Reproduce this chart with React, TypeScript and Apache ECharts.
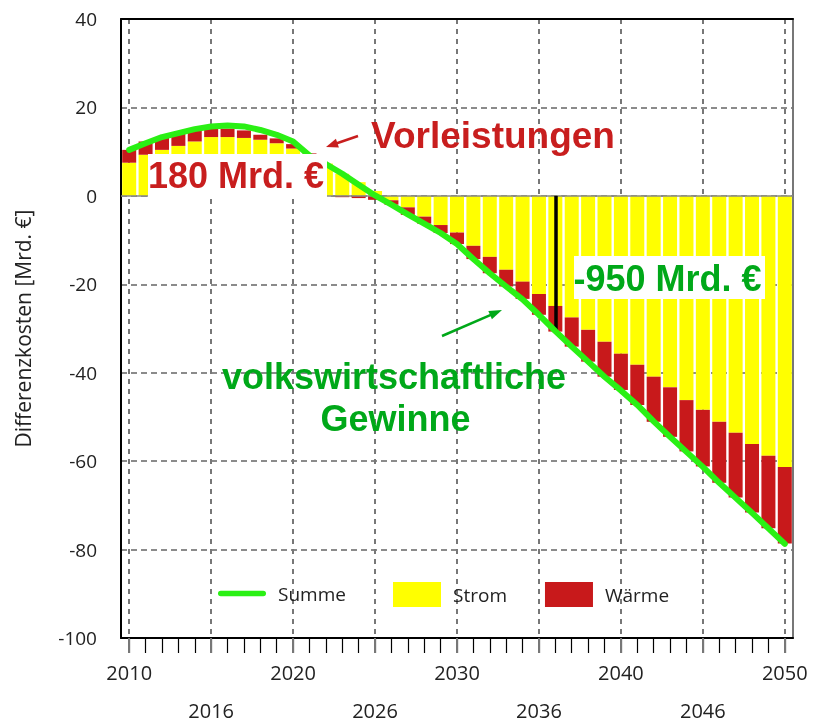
import { useEffect, useRef } from 'react';
import * as echarts from 'echarts';

const years = [
  '2010', '2011', '2012', '2013', '2014', '2015', '2016', '2017', '2018', '2019',
  '2020', '2021', '2022', '2023', '2024', '2025', '2026', '2027', '2028', '2029',
  '2030', '2031', '2032', '2033', '2034', '2035', '2036', '2037', '2038', '2039',
  '2040', '2041', '2042', '2043', '2044', '2045', '2046', '2047', '2048', '2049', '2050',
];

const strom = [
  7.5, 9.3, 10.4, 11.3, 12.3, 13.3, 13.3, 13.1, 12.7, 11.9,
  10.7, 9.1, 7.3, 5.0, 3.1, 1.1, -1.0, -2.6, -4.7, -6.6,
  -8.3, -11.3, -13.8, -16.7, -19.4, -22.2, -24.9, -27.5, -30.3, -33.0,
  -35.7, -38.2, -40.9, -43.3, -46.2, -48.4, -51.1, -53.6, -56.1, -58.8, -61.3,
];

const waerme = [
  2.9, 3.0, 2.8, 2.7, 2.5, 1.9, 1.9, 1.7, 1.1, 1.1,
  1.0, 0.5, 0, -0.3, -0.5, -0.9, -1.0, -1.7, -1.6, -1.8,
  -2.6, -3.0, -3.7, -3.8, -3.9, -4.7, -5.8, -6.6, -7.2, -7.9,
  -8.2, -9.1, -10.2, -11.2, -11.6, -12.8, -13.8, -14.6, -15.5, -16.4, -17.3,
];

const summe = [
  10.4, 11.9, 13.3, 14.2, 15.1, 15.7, 15.9, 15.7, 14.9, 13.8,
  12.3, 9.1, 7.2, 5.0, 2.5, 0.1, -2.0, -4.2, -6.3, -8.4,
  -10.9, -14.3, -17.5, -20.5, -23.4, -26.9, -30.6, -34.1, -37.5, -40.9,
  -44.0, -47.3, -51.0, -54.5, -57.9, -61.3, -64.9, -68.3, -71.7, -75.2, -78.7,
];

// second row of x-axis labels, as printed in the original
const lowerAxisLabels: Record<string, string> = {
  '2015': '2016',
  '2025': '2026',
  '2035': '2036',
  '2045': '2046',
};

const markerYear = '2036';

const legendNames = ['Summe', 'Strom', 'Wärme'];

export default function App() {
  const ref = useRef<HTMLDivElement>(null);

  useEffect(() => {
    const chart = echarts.init(ref.current!, null, { renderer: 'svg' });
    const markerValue = summe[years.indexOf(markerYear)];
    const annotFont = '"Liberation Sans", Arial, sans-serif';
    const red = '#c81e1e';
    const green = '#00a819';
    const lime = '#2af014';
    const legendBase = {
      padding: 0,
      itemWidth: 48,
      itemHeight: 25,
      itemGap: 38,
      symbolKeepAspect: true,
      textStyle: { fontSize: 19, color: '#222', fontFamily: '"Open Sans", sans-serif', padding: [0, 0, 0, 7] },
    };

    chart.setOption({
      animation: false,
      textStyle: { fontFamily: '"Open Sans", sans-serif' },
      grid: [
        { left: 121, right: 26, top: 19, bottom: 84 },
        { left: 121, right: 26, top: 19, bottom: 84 },
      ],
      legend: [
        {
          ...legendBase,
          left: 218,
          top: 584,
          data: [
            {
              name: legendNames[0],
              icon: 'path://M3,0 L49,0 A3,3 0 0 1 49,6 L3,6 A3,3 0 0 1 3,0 Z',
              itemStyle: { color: lime },
            },
          ],
        },
        {
          ...legendBase,
          left: 393,
          top: 582,
          data: [
            { name: legendNames[1], icon: 'rect' },
            { name: legendNames[2], icon: 'rect' },
          ],
        },
      ],
      xAxis: [
        {
          type: 'category',
          data: years,
          gridIndex: 0,
          position: 'bottom',
          boundaryGap: true,
          axisLine: { onZero: false, lineStyle: { color: '#000', width: 2 } },
          axisTick: { show: true, alignWithLabel: true, interval: 0, length: 15, lineStyle: { color: '#000', width: 1.2 } },
          axisLabel: { interval: 9, margin: 24, fontSize: 20, color: '#222' },
          splitLine: { show: true, interval: 4, alignWithLabel: true, lineStyle: { color: '#777', width: 2, type: [5, 5] } },
        },
        {
          type: 'category',
          data: years,
          gridIndex: 0,
          position: 'top',
          axisLine: { onZero: false, lineStyle: { color: '#000', width: 2 } },
          axisTick: { show: false },
          axisLabel: { show: false },
          splitLine: { show: false },
        },
        {
          type: 'category',
          data: years,
          gridIndex: 1,
          position: 'bottom',
          axisLine: { show: false, onZero: false },
          axisTick: { show: true, alignWithLabel: true, interval: 4, length: 15, lineStyle: { color: '#777', width: 2 } },
          axisLabel: {
            interval: (_i: number, v: string) => !!lowerAxisLabels[v],
            formatter: (v: string) => lowerAxisLabels[v] || '',
            margin: 62,
            fontSize: 20,
            color: '#222',
          },
          splitLine: { show: false },
        },
      ],
      yAxis: [
        {
          type: 'value',
          gridIndex: 0,
          min: -100,
          max: 40,
          interval: 20,
          position: 'left',
          axisLine: { show: true, lineStyle: { color: '#000', width: 2 } },
          axisTick: { show: false },
          axisLabel: { fontSize: 19, color: '#222', margin: 24 },
          name: 'Differenzkosten [Mrd. €]',
          nameLocation: 'middle',
          nameGap: 88,
          nameTextStyle: { fontSize: 21, color: '#222' },
          splitLine: { show: true, lineStyle: { color: '#666', width: 1.5, type: [6, 4] } },
        },
        {
          type: 'value',
          gridIndex: 0,
          min: -100,
          max: 40,
          interval: 20,
          position: 'right',
          axisLine: { show: true, lineStyle: { color: '#777', width: 2 } },
          axisTick: { show: false },
          axisLabel: { show: false },
          splitLine: { show: false },
        },
        {
          type: 'value',
          gridIndex: 1,
          min: -100,
          max: 40,
          interval: 20,
          show: false,
        },
      ],
      series: [
        {
          name: 'Strom',
          type: 'bar',
          stack: 'total',
          xAxisIndex: 0,
          yAxisIndex: 0,
          data: strom,
          barWidth: 14,
          itemStyle: { color: '#ffff00' },
          markLine: {
            silent: true,
            symbol: 'none',
            label: { show: false },
            data: [
              { yAxis: 0, lineStyle: { color: '#888', width: 1.5, type: 'solid' } },
              [
                { coord: [markerYear, 0], lineStyle: { color: '#000', width: 3.5, type: 'solid' } },
                { coord: [markerYear, markerValue] },
              ],
            ],
          },
        },
        {
          name: 'Wärme',
          type: 'bar',
          stack: 'total',
          xAxisIndex: 0,
          yAxisIndex: 0,
          data: waerme,
          barWidth: 14,
          itemStyle: { color: '#c8191b' },
        },
        {
          name: 'Summe',
          type: 'line',
          xAxisIndex: 0,
          yAxisIndex: 0,
          data: summe,
          symbol: 'none',
          showSymbol: false,
          z: 5,
          lineStyle: { color: lime, width: 6, cap: 'round', join: 'round' },
          itemStyle: { color: lime },
        },
      ],
      graphic: [
        { type: 'rect', z: 100, shape: { x: 148, y: 154, width: 179, height: 44 }, style: { fill: '#fff' } },
        {
          type: 'text', z: 101, x: 148, y: 175.5,
          style: { text: '180 Mrd. €', font: `bold 36px ${annotFont}`, fill: red, verticalAlign: 'middle', textVerticalAlign: 'middle' },
        },
        { type: 'rect', z: 100, shape: { x: 574, y: 256, width: 191, height: 43 }, style: { fill: '#fff' } },
        {
          type: 'text', z: 101, x: 573.5, y: 278,
          style: { text: '-950 Mrd. €', font: `bold 36px ${annotFont}`, fill: green, verticalAlign: 'middle', textVerticalAlign: 'middle' },
        },
        {
          type: 'text', z: 101, x: 371, y: 135.5,
          style: { text: 'Vorleistungen', font: `bold 37px ${annotFont}`, fill: red, verticalAlign: 'middle', textVerticalAlign: 'middle' },
        },
        {
          type: 'text', z: 101, x: 394, y: 376.5,
          style: { text: 'volkswirtschaftliche', font: `bold 36px ${annotFont}`, fill: green, align: 'center', textAlign: 'center', verticalAlign: 'middle', textVerticalAlign: 'middle' },
        },
        {
          type: 'text', z: 101, x: 395.5, y: 418.7,
          style: { text: 'Gewinne', font: `bold 36px ${annotFont}`, fill: green, align: 'center', textAlign: 'center', verticalAlign: 'middle', textVerticalAlign: 'middle' },
        },
        { type: 'line', z: 101, shape: { x1: 358, y1: 136, x2: 334, y2: 144.3 }, style: { stroke: red, lineWidth: 2.5 } },
        { type: 'polygon', z: 101, shape: { points: [[326, 147], [335.9, 138.8], [338.9, 147.4]] }, style: { fill: red } },
        { type: 'line', z: 101, shape: { x1: 442, y1: 336, x2: 492, y2: 314.3 }, style: { stroke: green, lineWidth: 2.5 } },
        { type: 'polygon', z: 101, shape: { points: [[502, 310], [491.9, 319.3], [488.3, 311.1]] }, style: { fill: green } },
      ],
    });

    return () => chart.dispose();
  }, []);

  return <div ref={ref} style={{ position: 'fixed', left: 0, top: 0, width: 819, height: 722 }} />;
}
